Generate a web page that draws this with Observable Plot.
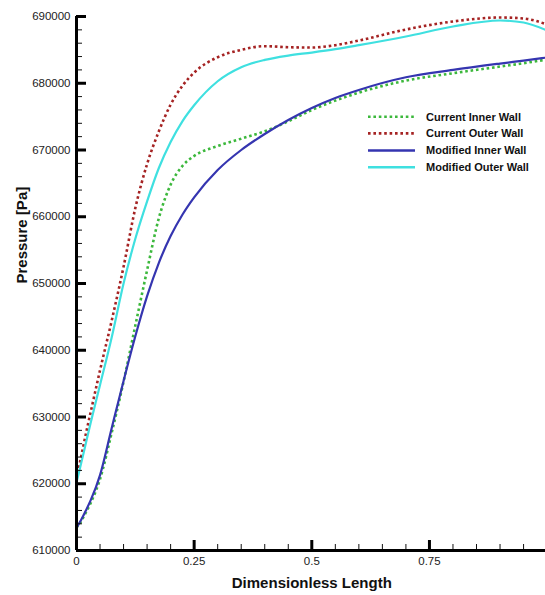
<!DOCTYPE html>
<html><head><meta charset="utf-8">
<script src="https://cdn.jsdelivr.net/npm/d3@7"></script>
<script src="https://cdn.jsdelivr.net/npm/@observablehq/plot@0.6"></script>
<style>
body{margin:0;background:#fff;font-family:"Liberation Sans",Arial,sans-serif;}
#wrap{position:relative;width:545px;height:595px;overflow:hidden;}
#legend{position:absolute;left:0;top:0;pointer-events:none;}
</style></head><body><div id="wrap"><div id="chart"></div><svg id="legend" width="545" height="595"></svg></div>
<script>
// Dimensionless length sample positions
const xs = [0,0.01,0.02,0.03,0.05,0.075,0.1,0.125,0.15,0.175,0.2,0.225,0.25,0.3,0.35,0.4,0.45,0.5,0.55,0.6,0.7,0.8,0.9,0.95,1.0];

// Pressure [Pa]
const currentInner  = [613400,614400,615700,617100,620700,627700,635300,643700,652000,659800,664800,667600,669100,670600,671700,672800,674300,676000,677400,678600,680400,681500,682500,683000,683560];
const currentOuter  = [620800,624100,627500,630700,637000,644500,652500,661300,667900,672800,676800,679600,681600,683900,685000,685550,685400,685350,685700,686400,688050,689250,689850,689700,688800];
const modifiedInner = [613400,614600,616000,617500,621300,628400,635400,642100,648100,653100,657100,660300,662900,667000,670000,672400,674500,676300,677800,679000,680900,682000,682950,683400,683860];
const modifiedOuter = [620200,623100,626100,629100,634800,642000,650000,656700,662300,667300,671200,674300,676700,680300,682400,683500,684150,684600,685100,685700,687000,688500,689400,689100,687900];

const seriesNames = ["Current Inner Wall","Current Outer Wall","Modified Inner Wall","Modified Outer Wall"];
const seriesValues = [currentInner, currentOuter, modifiedInner, modifiedOuter];
const seriesColors = ["#3cb83c","#a52323","#3535b0","#3fe0e0"];
const seriesDash = ["2.6,2.8","2.6,2.8",null,null];

const xMajor = [0,0.25,0.5,0.75,1];
const xLabels = ["0","0.25","0.5","0.75",""];
const xMinor = d3.range(0,1.0001,0.05).map(v=>+v.toFixed(2));
const yMajor = [610000,620000,630000,640000,650000,660000,670000,680000,690000];
const yMinor = d3.range(610000,690001,2000);

const W=545,H=595,mL=76,mT=16,mB=45,mR=-1.6;
const plotW = W-mL-mR, plotH = H-mT-mB;

const lineMarks = seriesNames.map((name,k)=>
  Plot.line(xs.map((x,i)=>({x, y:seriesValues[k][i]})), {
    x:"x", y:"y", stroke:seriesColors[k], strokeWidth: seriesDash[k]?2.6:2.2,
    strokeDasharray: seriesDash[k] ?? undefined, strokeLinecap:"butt", curve:"monotone-x"
  })
);

const chart = Plot.plot({
  width:W, height:H, marginLeft:mL, marginRight:mR, marginTop:mT, marginBottom:mB,
  style:{fontFamily:'"Liberation Sans",Arial,sans-serif', fontSize:"11.5px", color:"#222", background:"white", overflow:"visible"},
  x:{domain:[0,1]},
  y:{domain:[610000,690000]},
  marks:[
    ...lineMarks,
    Plot.axisX({ticks:xMajor, tickSize:0, tickPadding:6, tickFormat:d=>xLabels[xMajor.indexOf(d)], label:null}),
    Plot.axisY({ticks:yMajor, tickSize:0, tickPadding:6, tickFormat:d=>String(d), label:null}),
    Plot.tickX(xMinor, {x:d=>d, insetTop:plotH-6, strokeWidth:1, stroke:"#111"}),
    Plot.tickX(xMajor, {x:d=>d, insetTop:plotH-10, strokeWidth:3, stroke:"#000"}),
    Plot.tickY(yMinor, {y:d=>d, insetRight:plotW-6, strokeWidth:1, stroke:"#111"}),
    Plot.tickY(yMajor, {y:d=>d, insetRight:plotW-10, strokeWidth:3, stroke:"#000"}),
    Plot.ruleX([0], {strokeWidth:3, stroke:"#000"}),
    Plot.ruleY([610000], {strokeWidth:3, stroke:"#000"}),
    Plot.text(["Dimensionless Length"], {frameAnchor:"bottom", dy:37, fontSize:15, fontWeight:"bold", fill:"#111"}),
    Plot.text(["Pressure [Pa]"], {frameAnchor:"left", dx:-54, rotate:-90, fontSize:15, fontWeight:"bold", fill:"#111"})
  ]
});
document.getElementById("chart").appendChild(chart);

// Legend
const lg = d3.select("#legend");
const rowsY = [116.8,133.4,150.5,167.3];
seriesNames.forEach((name,k)=>{
  const g = lg.append("g").attr("transform",`translate(0,${rowsY[k]})`);
  g.append("line").attr("x1",368).attr("x2",415).attr("y1",0).attr("y2",0)
    .attr("stroke",seriesColors[k]).attr("stroke-width",2.6)
    .attr("stroke-dasharray",seriesDash[k]||null);
  g.append("text").attr("x",426).attr("y",0).attr("dy","0.36em")
    .attr("font-family",'"Liberation Sans",Arial,sans-serif').attr("font-size",11)
    .attr("font-weight","bold").attr("fill","#111").text(name);
});
</script>
</body></html>
